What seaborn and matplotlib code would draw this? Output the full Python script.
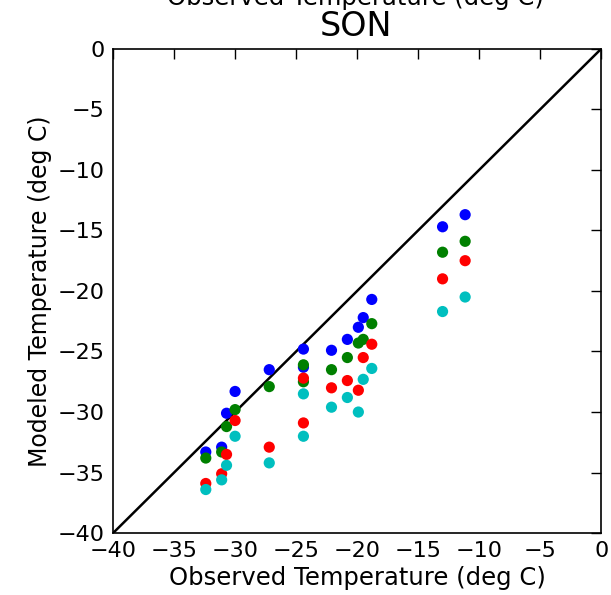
"""SON: modelled vs observed temperature scatter."""
import matplotlib
matplotlib.use("Agg")
import matplotlib.pyplot as plt
import pandas as pd
import seaborn as sns

# observed temperature per station (deg C)
obs = [-32.4, -31.1, -30.7, -30.0, -27.2, -24.4, -24.4, -22.1, -20.8, -19.9, -19.5, -18.8, -13.0, -11.15]
# modelled temperature, one list per model run
blue = [-33.3, -32.9, -30.1, -28.3, -26.5, -24.8, -26.3, -24.9, -24.0, -23.0, -22.2, -20.7, -14.7, -13.7]
green = [-33.8, -33.3, -31.2, -29.8, -27.9, -26.1, -27.5, -26.5, -25.5, -24.3, -24.0, -22.7, -16.8, -15.9]
red = [-35.9, -35.1, -33.5, -30.7, -32.9, -27.2, -30.9, -28.0, -27.4, -28.2, -25.5, -24.4, -19.0, -17.5]
cyan = [-36.4, -35.6, -34.4, -32.0, -34.2, -28.5, -32.0, -29.6, -28.8, -30.0, -27.3, -26.4, -21.7, -20.5]

runs = ["b", "g", "r", "c"]
colors = {"b": "#0000ff", "g": "#008000", "r": "#ff0000", "c": "#00bfbf"}

df = pd.concat([
    pd.DataFrame({"obs": obs, "mod": vals, "run": name})
    for name, vals in zip(runs, [blue, green, red, cyan])
], ignore_index=True)

sns.set_style("white")
plt.rcParams["font.family"] = ["DejaVu Sans"]
plt.rcParams["text.color"] = "black"
plt.rcParams["axes.labelcolor"] = "black"
plt.rcParams["xtick.color"] = "black"
plt.rcParams["ytick.color"] = "black"
plt.rcParams["xtick.direction"] = "in"
plt.rcParams["ytick.direction"] = "in"

fig = plt.figure(figsize=(6.11, 5.95), dpi=100)
ax = fig.add_axes([0.185, 0.104, 0.799, 0.814])

ax.plot([-40, 0], [-40, 0], color="black", lw=1.8, zorder=1)
sns.scatterplot(data=df, x="obs", y="mod", hue="run", palette=colors,
                s=65, linewidth=0, legend=False, ax=ax, zorder=2)

ax.set_xlim(-40, 0); ax.set_ylim(-40, 0)
ax.set_xticks(range(-40, 1, 5)); ax.set_yticks(range(-40, 1, 5))
ax.tick_params(labelsize=16, length=7, width=1, top=True, right=True, pad=6)
for s in ax.spines.values():
    s.set_color("black"); s.set_linewidth(1.2)
ax.set_xlabel("Observed Temperature (deg C)", fontsize=17.5, labelpad=3)
ax.set_ylabel("Modeled Temperature (deg C)", fontsize=17, labelpad=4)

fig.text(0.582, 0.9395, "SON", fontsize=24, ha="center", va="baseline")
fig.text(0.582, 0.9916, "Observed Temperature (deg C)", fontsize=17.5,
         ha="center", va="baseline")

fig.savefig("out.png", dpi=100)
